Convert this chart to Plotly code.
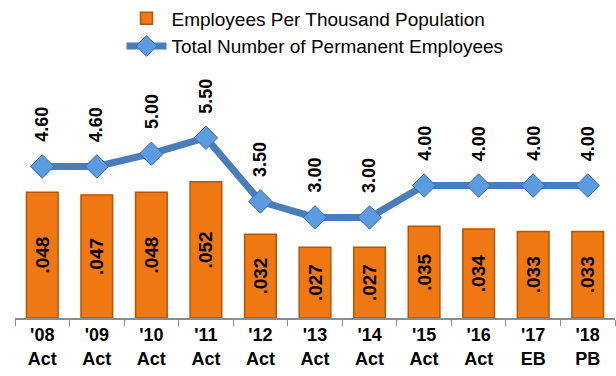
import plotly.graph_objects as go

# Fiscal years and budget stage
years = ["'08", "'09", "'10", "'11", "'12", "'13", "'14", "'15", "'16", "'17", "'18"]
stages = ["Act", "Act", "Act", "Act", "Act", "Act", "Act", "Act", "Act", "EB", "PB"]

# Employees per thousand population (bars)
per_thousand = [0.048, 0.047, 0.048, 0.052, 0.032, 0.027, 0.027, 0.035, 0.034, 0.033, 0.033]

# Total number of permanent employees (line)
permanent = [4.60, 4.60, 5.00, 5.50, 3.50, 3.00, 3.00, 4.00, 4.00, 4.00, 4.00]

cats = [f"{y}<br>{s}" for y, s in zip(years, stages)]
FONT = "Arial, Liberation Sans, sans-serif"

fig = go.Figure()

fig.add_trace(go.Bar(
    x=cats,
    y=per_thousand,
    name="Employees Per Thousand Population",
    marker=dict(color="#EF7812", line=dict(color="#B3560A", width=1.5)),
    width=0.58,
    text=[f"{v:.3f}"[1:] for v in per_thousand],
    textposition="inside",
    insidetextanchor="middle",
    textangle=-90,
    constraintext="none",
    textfont=dict(family=FONT, size=19, color="black", weight="bold"),
    yaxis="y",
))

fig.add_trace(go.Scatter(
    x=cats,
    y=permanent,
    name="Total Number of Permanent Employees",
    mode="lines+markers",
    line=dict(color="#4A7EBB", width=7),
    marker=dict(symbol="diamond", size=18, color="#5B9BE0",
                line=dict(color="#3A6CA8", width=1)),
    yaxis="y2",
))

for c, v in zip(cats, permanent):
    fig.add_annotation(
        x=c, y=v, xref="x", yref="y2",
        text=f"<b>{v:.2f}</b>",
        textangle=-90,
        showarrow=False,
        xanchor="center", yanchor="middle",
        yshift=42,
        font=dict(family=FONT, size=18, color="black"),
    )

fig.update_layout(
    width=616, height=376,
    margin=dict(l=15, r=1, t=60, b=58, autoexpand=False),
    plot_bgcolor="white",
    paper_bgcolor="white",
    showlegend=True,
    legend=dict(
        orientation="v",
        x=0.5, xanchor="center",
        y=1.235, yanchor="top",
        font=dict(family=FONT, size=19, color="black"),
        tracegroupgap=0,
        itemwidth=40,
    ),
    xaxis=dict(
        type="category",
        range=[-0.5, len(cats) - 0.5],
        automargin=False,
        showline=True, linecolor="#8C8C8C", linewidth=1.5,
        ticks="outside", tickson="boundaries", ticklen=6, tickcolor="#8C8C8C",
        tickfont=dict(family=FONT, size=18, color="black", weight="bold"),
        showgrid=False,
    ),
    yaxis=dict(range=[0, 0.0985], visible=False, showgrid=False),
    yaxis2=dict(range=[-0.156, 7.94], overlaying="y", visible=False, showgrid=False),
)

fig.write_html("out.html")
